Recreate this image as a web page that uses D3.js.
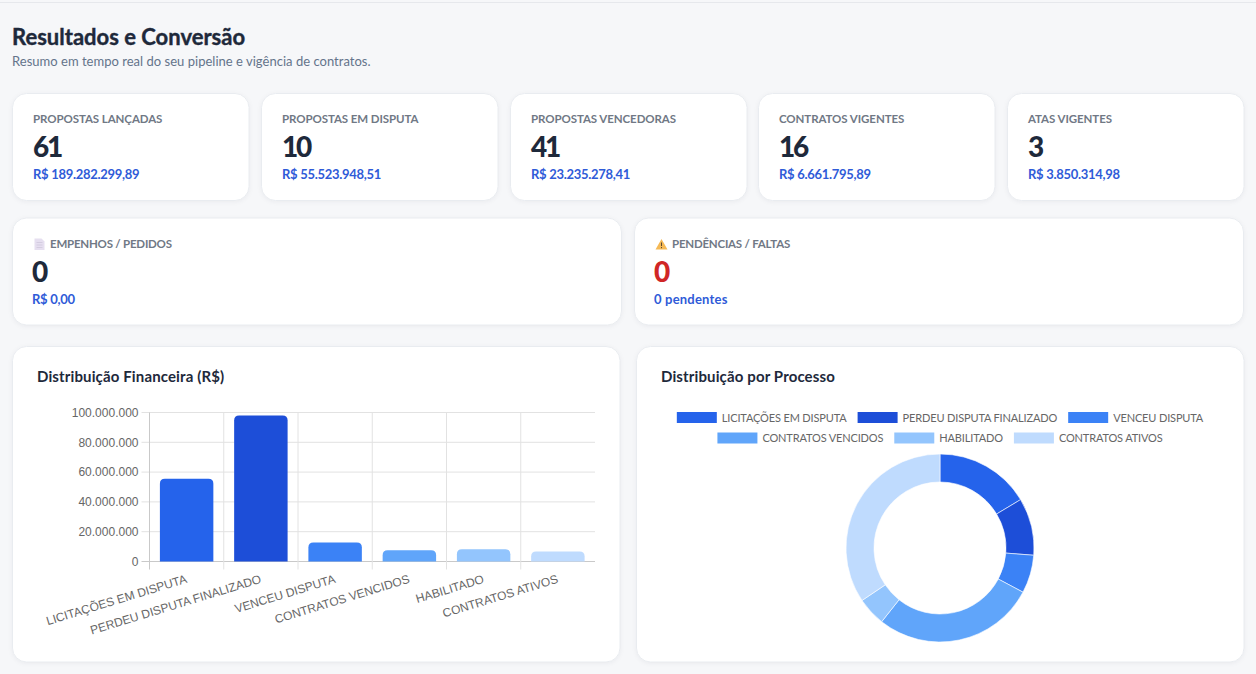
<!DOCTYPE html>
<html lang="pt-BR">
<head>
<meta charset="utf-8">
<title>Resultados e Conversão</title>
<script src="https://cdn.jsdelivr.net/npm/d3@7/dist/d3.min.js"></script>
<style>
  html, body { margin: 0; padding: 0; background: #f6f7f9; overflow: hidden; }
  svg { display: block; font-family: Lato, "Noto Sans", sans-serif; }
  .card { fill: #fff; stroke: #e9ecf0; stroke-width: 1; filter: drop-shadow(0 1px 2px rgba(15,23,42,.05)); }
  .heading { font-size: 22px; font-weight: 700; fill: #1e293b; stroke: #1e293b; stroke-width: .4px; }
  .subheading { font-size: 13px; fill: #64748b; letter-spacing: .02px; }
  .kpi-label { font-size: 11.5px; font-weight: 700; fill: #707885; letter-spacing: -.08px; }
  .kpi-label.wide { letter-spacing: -.22px; }
  .kpi-value { font-size: 28px; font-weight: 900; fill: #1e293b; letter-spacing: -2.2px; }
  .kpi-value.alert { fill: #d02626; }
  .kpi-note { font-size: 13px; font-weight: 700; fill: #2f5bd8; letter-spacing: -.3px; }
  .kpi-note.loose { letter-spacing: .2px; }
  .panel-title { font-size: 15px; font-weight: 700; fill: #1e293b; letter-spacing: .13px; }
  .axis text { font-family: "Liberation Sans", Arial, sans-serif; font-size: 12px; fill: #666; }
  .axis path { display: none; }
  .grid line { stroke: #e2e2e2; }
  .legend-label { font-size: 11px; fill: #666; letter-spacing: -.15px; }
</style>
</head>
<body>
<svg id="board" width="1256" height="674"></svg>
<script>
// Dashboard figures
const pageTitle = "Resultados e Conversão";
const pageSubtitle = "Resumo em tempo real do seu pipeline e vigência de contratos.";

const kpiLabels = ["PROPOSTAS LANÇADAS", "PROPOSTAS EM DISPUTA", "PROPOSTAS VENCEDORAS", "CONTRATOS VIGENTES", "ATAS VIGENTES"];
const kpiCounts = [61, 10, 41, 16, 3];
const kpiAmounts = ["R$ 189.282.299,89", "R$ 55.523.948,51", "R$ 23.235.278,41", "R$ 6.661.795,89", "R$ 3.850.314,98"];

const wideLabels = ["EMPENHOS / PEDIDOS", "PENDÊNCIAS / FALTAS"];
const wideCounts = [0, 0];
const wideNotes = ["R$ 0,00", "0 pendentes"];

// Chart series, one entry per pipeline stage
const stages = ["LICITAÇÕES EM DISPUTA", "PERDEU DISPUTA FINALIZADO", "VENCEU DISPUTA", "CONTRATOS VENCIDOS", "HABILITADO", "CONTRATOS ATIVOS"];
const stageAmounts = [55523948.51, 98000000, 12700000, 7600000, 8300000, 6661795.89];
const stageCounts = [10, 6, 4, 17, 3, 21];
const stageColors = ["#2563eb", "#1d4ed8", "#3b82f6", "#60a5fa", "#93c5fd", "#bfdbfe"];
const amountTicks = [0, 20000000, 40000000, 60000000, 80000000, 100000000];

const svg = d3.select("#board");
const ptBR = d3.formatLocale({ decimal: ",", thousands: ".", grouping: [3], currency: ["R$ ", ""] });

// Page frame and heading
svg.append("line").attr("x1", 0).attr("x2", 1256).attr("y1", 2.5).attr("y2", 2.5).attr("stroke", "#e6e8ec");
svg.append("text").attr("class", "heading").attr("x", 12).attr("y", 45).text(pageTitle);
svg.append("text").attr("class", "subheading").attr("x", 12).attr("y", 66).text(pageSubtitle);

function card(x, y, w, h, r) {
  return svg.append("rect").attr("class", "card")
    .attr("x", x).attr("y", y).attr("width", w).attr("height", h).attr("rx", r);
}

// Five summary cards
const kpiLeft = [12, 261, 510, 758, 1007];
kpiLabels.forEach((label, i) => {
  const x = kpiLeft[i];
  card(x + .5, 93.5, 236.5, 107, 14);
  svg.append("text").attr("class", "kpi-label").attr("x", x + 21).attr("y", 123).text(label);
  svg.append("text").attr("class", "kpi-value").attr("x", x + 21).attr("y", 157).text(kpiCounts[i]);
  svg.append("text").attr("class", "kpi-note").attr("x", x + 21).attr("y", 179).text(kpiAmounts[i]);
});

// Two wide cards with their small icons
const wideLeft = [12, 634];
wideLabels.forEach((label, i) => {
  const x = wideLeft[i];
  card(x + .5, 218, 609, 107, 14);
  svg.append("text").attr("class", "kpi-label wide").attr("x", x + 38).attr("y", 248).text(label);
  svg.append("text").attr("class", "kpi-value" + (i === 1 ? " alert" : "")).attr("x", x + 20).attr("y", 282).text(wideCounts[i]);
  svg.append("text").attr("class", "kpi-note" + (i === 1 ? " loose" : "")).attr("x", x + 20).attr("y", 304).text(wideNotes[i]);
});
const receipt = svg.append("g").attr("transform", "translate(34.5,238.5)");
receipt.append("path").attr("d", "M0 0H7L10 3V11.5H0Z").attr("fill", "#e6dff0");
receipt.selectAll("line").data([4, 6.5, 9]).join("line")
  .attr("x1", 2).attr("x2", 8).attr("y1", d => d).attr("y2", d => d).attr("stroke", "#cfc6dc").attr("stroke-width", .8);
const warning = svg.append("g").attr("transform", "translate(656,239)");
warning.append("path").attr("d", "M5.5 0L11.5 10.5H-.5Z").attr("fill", "#f5b955");
warning.append("path").attr("d", "M5.5 3.5V7M5.5 8V9.2").attr("stroke", "#5b4a32").attr("stroke-width", 1);

// Bar chart panel
card(12.5, 346.5, 607.5, 315.5, 14);
svg.append("text").attr("class", "panel-title").attr("x", 37).attr("y", 382).text("Distribuição Financeira (R$)");

const plot = { left: 149.5, right: 595, top: 412.5, bottom: 561.5 };
const y = d3.scaleLinear().domain([0, 100000000]).range([plot.bottom, plot.top]);
const xCell = d3.scaleBand().domain(stages).range([plot.left, plot.right]);
const xBar = d3.scaleBand().domain(stages).range([plot.left, plot.right]).paddingInner(.28).paddingOuter(.14);

const chart = svg.append("g");
chart.append("g").attr("class", "grid").selectAll("line").data(amountTicks).join("line")
  .attr("x1", plot.left - 8).attr("x2", plot.right)
  .attr("y1", d => y(d)).attr("y2", d => y(d))
  .style("stroke", d => d === 0 ? "#c9c9c9" : null);
chart.append("g").attr("class", "grid").selectAll("line").data(stages).join("line")
  .attr("x1", d => xCell(d)).attr("x2", d => xCell(d))
  .attr("y1", plot.top).attr("y2", plot.bottom + 8)
  .style("stroke", (d, i) => i === 0 ? "#c9c9c9" : null);

chart.append("g").selectAll("path").data(stages).join("path")
  .attr("fill", (d, i) => stageColors[i])
  .attr("d", (d, i) => {
    const x0 = xBar(d), x1 = x0 + xBar.bandwidth(), top = y(stageAmounts[i]), base = y(0), r = 5;
    return `M${x0},${base}V${top + r}Q${x0},${top} ${x0 + r},${top}H${x1 - r}Q${x1},${top} ${x1},${top + r}V${base}Z`;
  });

chart.append("g").attr("class", "axis").attr("transform", `translate(${plot.left},0)`)
  .call(d3.axisLeft(y).tickValues(amountTicks).tickSize(0).tickPadding(11).tickFormat(ptBR.format(",d")));

chart.append("g").attr("class", "axis").attr("transform", `translate(0,${plot.bottom})`)
  .call(d3.axisBottom(xBar).tickSize(0).tickPadding(0))
  .selectAll("text")
  .attr("text-anchor", "end").attr("dy", 0)
  .attr("transform", "translate(1,21) rotate(-17)");

// Doughnut panel
card(636.5, 346.5, 607.5, 315.5, 14);
svg.append("text").attr("class", "panel-title").attr("x", 661).attr("y", 382).text("Distribuição por Processo");

// Legend rows are measured, wrapped and centred on the panel
const legend = svg.append("g");
const legendCenter = 940, boxW = 40, boxGap = 5, itemGap = 11, legendMax = 560;
const measured = legend.selectAll("text").data(stages).join("text").attr("class", "legend-label").text(d => d);
const widths = measured.nodes().map(n => n.getComputedTextLength());
const rows = [[]];
let used = 0;
stages.forEach((s, i) => {
  const w = boxW + boxGap + widths[i] + itemGap;
  if (used + w > legendMax) { rows.push([]); used = 0; }
  rows[rows.length - 1].push(i);
  used += w;
});
rows.forEach((row, r) => {
  const total = d3.sum(row, i => boxW + boxGap + widths[i]) + itemGap * (row.length - 1);
  let x = legendCenter - total / 2;
  const rowY = 417.5 + r * 20.5;
  row.forEach(i => {
    legend.append("rect").attr("x", x).attr("y", rowY - 5.5).attr("width", boxW).attr("height", 11).attr("fill", stageColors[i]);
    measured.filter((d, k) => k === i).attr("x", x + boxW + boxGap).attr("y", rowY + 4);
    x += boxW + boxGap + widths[i] + itemGap;
  });
});

const pie = d3.pie().value(d => d).sort(null);
const arc = d3.arc().innerRadius(66).outerRadius(94);
svg.append("g").attr("transform", "translate(940,548)")
  .selectAll("path").data(pie(stageCounts)).join("path")
  .attr("d", arc)
  .attr("fill", (d, i) => stageColors[i])
  .attr("stroke", "#fff").attr("stroke-width", .6);
</script>
</body>
</html>
